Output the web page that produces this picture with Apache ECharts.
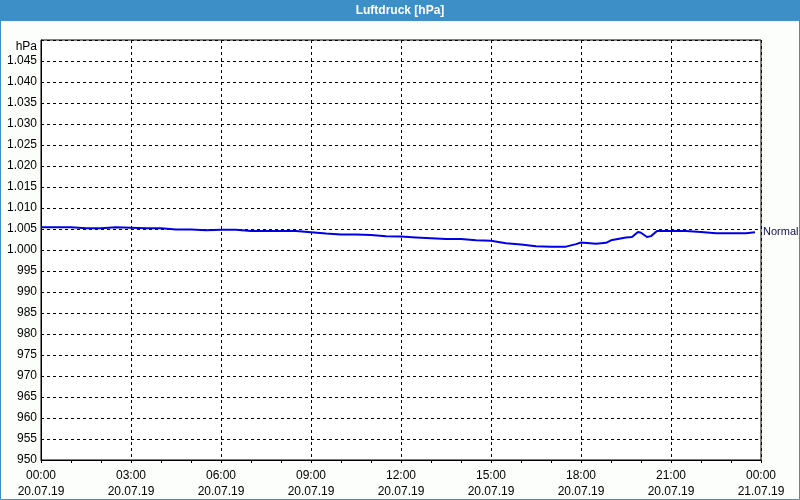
<!DOCTYPE html>
<html>
<head>
<meta charset="utf-8">
<script src="https://cdn.jsdelivr.net/npm/echarts@6/dist/echarts.min.js"></script>
<style>
html,body{margin:0;padding:0;background:#fcfefc;}
#c{width:800px;height:500px;}
</style>
</head>
<body>
<div id="c"></div>
<script>
// Data
const times = ["00:00","00:30","01:00","01:30","02:00","02:30","03:00","03:30","04:00","04:30","05:00","05:30",
  "06:00","06:30","07:00","07:30","08:00","08:30","09:00","09:30","10:00","10:30","11:00","11:30",
  "12:00","12:30","13:00","13:30","14:00","14:30","15:00","15:30","16:00","16:30","17:00","17:30",
  "17:50","18:00","18:30","18:50","19:00","19:30","19:42","19:54","20:00","20:12","20:20","20:32",
  "21:00","21:30","22:00","22:30","23:00","23:30","23:48"];
const pressure = [1005.4,1005.4,1005.4,1005.2,1005.2,1005.4,1005.3,1005.2,1005.2,1004.9,1004.9,1004.7,
  1004.8,1004.8,1004.5,1004.5,1004.5,1004.5,1004.2,1003.9,1003.7,1003.7,1003.6,1003.3,
  1003.2,1003.0,1002.8,1002.6,1002.6,1002.3,1002.2,1001.6,1001.3,1000.9,1000.8,1000.8,
  1001.4,1001.8,1001.5,1001.7,1002.3,1003.0,1003.1,1004.3,1004.1,1003.1,1003.3,1004.5,
  1004.5,1004.5,1004.3,1004.0,1004.0,1004.0,1004.2];
const xTickHours = [0,3,6,9,12,15,18,21,24];
const xTickLabels = ["00:00\n20.07.19","03:00\n20.07.19","06:00\n20.07.19","09:00\n20.07.19","12:00\n20.07.19",
  "15:00\n20.07.19","18:00\n20.07.19","21:00\n20.07.19","00:00\n21.07.19"];
const normalValue = 1004.2;
const titleText = "Luftdruck [hPa]";
const unitText = "hPa";

function toHours(s){const p=s.split(':');return +p[0]+(+p[1])/60;}
const seriesData = times.map((t,i)=>[toHours(t),pressure[i]]);

const chart = echarts.init(document.getElementById('c'));
const font = 'Liberation Sans, Arial, sans-serif';
chart.setOption({
  animation:false,
  backgroundColor:'#fcfefc',
  textStyle:{fontFamily:font},
  graphic:[
    {type:'rect',shape:{x:0.5,y:0.5,width:799,height:499},style:{fill:'none',stroke:'#3d8fc7',lineWidth:1},z:10},
    {type:'rect',shape:{x:0,y:0,width:800,height:21},style:{fill:'#3d8fc7'},z:10},
    {type:'text',x:400,y:11,style:{text:titleText,fill:'#ffffff',font:'bold 12px '+font,align:'center',verticalAlign:'middle'},z:11}
  ],
  grid:{left:41,right:39,top:40,bottom:40,show:true,borderColor:'#000',borderWidth:1,backgroundColor:'#ffffff'},
  xAxis:{
    type:'value',min:0,max:24,interval:3,
    axisLine:{lineStyle:{color:'#000'}},
    axisTick:{show:true,length:3,lineStyle:{color:'#000'}},
    minorTick:{show:true,splitNumber:3,length:3,lineStyle:{color:'#000'}},
    splitLine:{show:true,lineStyle:{color:'#000',type:[3,3],width:1}},
    axisLabel:{color:'#000',fontSize:12,lineHeight:16,margin:8,
      formatter:v=>{const i=xTickHours.indexOf(v);return i>=0?xTickLabels[i]:'';}}
  },
  yAxis:{
    type:'value',min:950,max:1050,interval:5,
    name:unitText,nameLocation:'end',nameGap:-13,
    nameTextStyle:{color:'#000',fontSize:12,align:'right',padding:[0,4,0,0]},
    axisLine:{show:true,lineStyle:{color:'#000'}},
    axisTick:{show:false},
    splitLine:{show:true,lineStyle:{color:'#000',type:[3,3],width:1}},
    axisLabel:{color:'#000',fontSize:12,margin:4,
      formatter:v=>{if(v>=1050)return '';if(v>=1000){return '1.'+String(v-1000).padStart(3,'0');}return String(v);}}
  },
  series:[{
    type:'line',data:seriesData,showSymbol:false,
    lineStyle:{color:'#0000e6',width:2},
    markLine:{silent:true,symbol:'none',
      lineStyle:{color:'rgba(0,0,0,0)',width:1,type:'solid'},
      label:{show:true,position:'end',formatter:'Normal',color:'#101050',fontSize:11,distance:2},
      data:[{yAxis:normalValue}]}
  }]
});
</script>
</body>
</html>
